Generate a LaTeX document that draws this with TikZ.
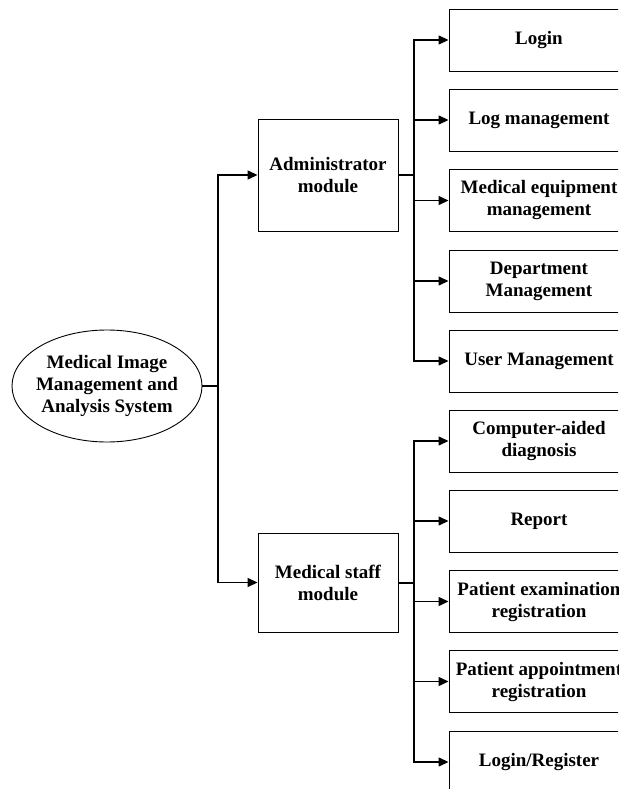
\documentclass[tikz,border=0pt]{standalone}
\usepackage{fontspec}
\setmainfont{Liberation Serif}
\usetikzlibrary{arrows.meta,shapes.geometric}
\begin{document}
\begin{tikzpicture}[x=1pt,y=-1pt,
  txt/.style={align=center,font=\fontsize{19}{22}\selectfont\bfseries},
  leaf/.style={txt,draw,line width=0.9pt,minimum width=180pt,minimum height=62pt,inner sep=0pt},
  mod/.style={txt,draw,line width=0.9pt,minimum width=140pt,inner sep=0pt},
  conn/.style={line width=1.3pt,-{Triangle[length=10pt,width=9pt]}},
  stem/.style={line width=2pt},
  plain/.style={line width=1.3pt}]
\useasboundingbox (0,0) rectangle (618,789);
\clip (0,0) rectangle (618,789);
% root
\node[txt,ellipse,draw,line width=0.9pt,minimum width=190pt,minimum height=112pt,inner xsep=-4pt,inner ysep=0pt] (sys) at (107,386) {Medical Image\\Management and\\Analysis System};
% modules
\node[mod,minimum height=112pt] (admin) at (328,175) {Administrator\\module};
\node[mod,minimum height=99pt] (staff) at (328,582.5) {Medical staff\\module};
% admin leaves
\node[leaf] (a1) at (539,40) {Login};
\node[leaf] (a2) at (539,120) {Log management};
\node[leaf] (a3) at (539,200.5) {Medical equipment\\management};
\node[leaf] (a4) at (539,281) {Department\\Management};
\node[leaf] (a5) at (539,361) {User Management};
% staff leaves
\node[leaf] (s1) at (539,441) {Computer-aided\\diagnosis};
\node[leaf] (s2) at (539,521) {Report};
\node[leaf] (s3) at (539,601.5) {Patient examination\\registration};
\node[leaf] (s4) at (539,681.5) {Patient appointment\\registration};
\node[leaf] (s5) at (539,762) {Login/Register};
% connectors from root
\coordinate (j) at (218,386);
\draw[plain] (sys.east) -- (j);
\draw[conn] (j) |- (admin.west);
\draw[conn] (j) |- (staff.west);
% admin bus
\coordinate (ab) at (414,175);
\draw[stem] (admin.east) -- (ab);
\foreach \n in {a1,a2,a3,a4,a5} \draw[conn] (ab) |- (\n.west);
% staff bus
\coordinate (sb) at (414,582.5);
\draw[stem] (staff.east) -- (sb);
\foreach \n in {s1,s2,s3,s4,s5} \draw[conn] (sb) |- (\n.west);
\end{tikzpicture}
\end{document}
